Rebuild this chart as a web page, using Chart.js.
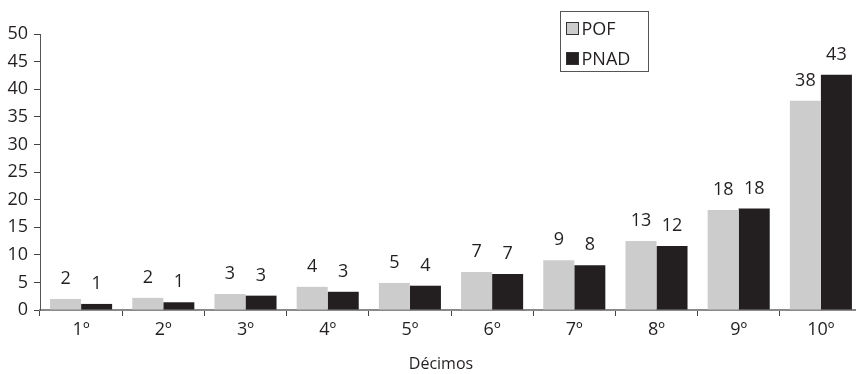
<!DOCTYPE html>
<html>
<head>
<meta charset="utf-8">
<script src="https://cdn.jsdelivr.net/npm/chart.js@4.4.1/dist/chart.umd.min.js"></script>
<style>
  html, body { margin: 0; padding: 0; background: #fff; overflow: hidden; }
  #wrap { width: 862px; height: 374px; }
</style>
</head>
<body>
<div id="wrap"><canvas id="c" width="862" height="374"></canvas></div>
<script>
// Participação por décimo de renda (%)
const categories = ['1º', '2º', '3º', '4º', '5º', '6º', '7º', '8º', '9º', '10º'];
const pofValues  = [2.0, 2.2, 2.9, 4.2, 4.9, 6.9, 9.0, 12.5, 18.1, 37.9];
const pnadValues = [1.1, 1.4, 2.6, 3.3, 4.4, 6.5, 8.1, 11.6, 18.4, 42.6];
const seriesNames = ['POF', 'PNAD'];
const yTicks = [0, 5, 10, 15, 20, 25, 30, 35, 40, 45, 50];
const axisTitle = 'Décimos';

const FONT = '"Open Sans", "Liberation Sans", sans-serif';
const TEXT = '#231f20';
const AXIS = '#8a8a8a';
const COLORS = ['#cccccc', '#231f20'];

// Rounded value labels above each bar
const valueLabels = {
  id: 'valueLabels',
  afterDatasetsDraw(chart) {
    const ctx = chart.ctx;
    ctx.save();
    ctx.font = '18px ' + FONT;
    ctx.fillStyle = TEXT;
    ctx.textAlign = 'center';
    ctx.textBaseline = 'middle';
    chart.data.datasets.forEach((ds, i) => {
      chart.getDatasetMeta(i).data.forEach((bar, j) => {
        ctx.fillText(String(Math.round(ds.data[j])), bar.x, bar.y - 20);
      });
    });
    ctx.restore();
  }
};

// Axis title under the category labels
const xTitle = {
  id: 'xTitle',
  afterDraw(chart) {
    const ctx = chart.ctx;
    ctx.save();
    ctx.font = '16px ' + FONT;
    ctx.fillStyle = TEXT;
    ctx.textAlign = 'center';
    ctx.textBaseline = 'middle';
    ctx.fillText(axisTitle, 441, 364);
    ctx.restore();
  }
};

// Boxed legend in the upper right
const boxLegend = {
  id: 'boxLegend',
  afterDraw(chart) {
    const ctx = chart.ctx;
    const x0 = 560.5, y0 = 11.5, w = 88, h = 60;
    ctx.save();
    ctx.fillStyle = '#fff';
    ctx.fillRect(x0, y0, w, h);
    ctx.strokeStyle = '#555';
    ctx.lineWidth = 1;
    ctx.strokeRect(x0, y0, w, h);
    ctx.font = '18px ' + FONT;
    ctx.textBaseline = 'middle';
    ctx.textAlign = 'left';
    chart.data.datasets.forEach((ds, i) => {
      const cy = y0 + 17 + i * 30;
      ctx.fillStyle = ds.backgroundColor;
      ctx.fillRect(x0 + 6, cy - 6, 12, 12);
      ctx.strokeStyle = '#333';
      ctx.strokeRect(x0 + 6, cy - 6, 12, 12);
      ctx.fillStyle = TEXT;
      ctx.fillText(ds.label, x0 + 21, cy + 1);
    });
    ctx.restore();
  }
};

new Chart(document.getElementById('c'), {
  type: 'bar',
  data: {
    labels: categories,
    datasets: [
      { label: seriesNames[0], data: pofValues, backgroundColor: COLORS[0] },
      { label: seriesNames[1], data: pnadValues, backgroundColor: COLORS[1] }
    ]
  },
  options: {
    responsive: false,
    animation: false,
    events: [],
    layout: { padding: { top: 34, right: 0, left: 0, bottom: 0 } },
    datasets: { bar: { barPercentage: 1.0, categoryPercentage: 0.755 } },
    plugins: { legend: { display: false }, tooltip: { enabled: false } },
    scales: {
      x: {
        grid: { display: true, offset: true, drawOnChartArea: false, drawTicks: true,
                tickLength: 6, color: '#444', lineWidth: 1 },
        border: { display: true, color: AXIS, width: 2 },
        ticks: { color: TEXT, font: { family: FONT, size: 18 }, padding: 3 },
        afterFit(scale) { scale.height = 64; }
      },
      y: {
        min: 0, max: 50,
        afterBuildTicks(scale) { scale.ticks = yTicks.map(v => ({ value: v })); },
        grid: { display: true, drawOnChartArea: false, drawTicks: true,
                tickLength: 6, color: '#444' },
        border: { display: true, color: '#555', width: 1 },
        ticks: { color: TEXT, font: { family: FONT, size: 18 }, padding: 6 },
        afterFit(scale) { scale.width = 40; }
      }
    }
  },
  plugins: [valueLabels, xTitle, boxLegend]
});
</script>
</body>
</html>
